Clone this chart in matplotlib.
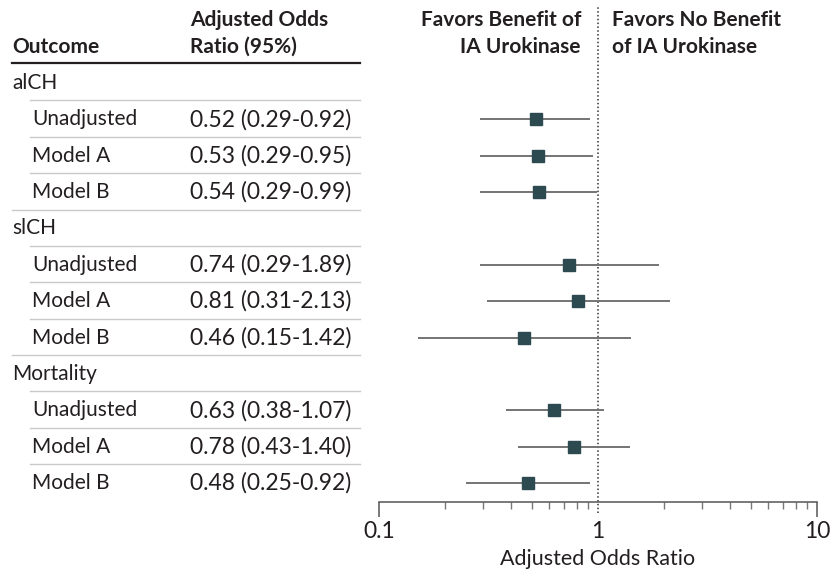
import matplotlib
matplotlib.use("Agg")
import matplotlib.pyplot as plt
import matplotlib.transforms as mtransforms
from matplotlib import font_manager
import numpy as np

# ---- data ----
groups = ["alCH", "slCH", "Mortality"]
models = ["Unadjusted", "Model A", "Model B"]
odds_ratio = [0.52, 0.53, 0.54, 0.74, 0.81, 0.46, 0.63, 0.78, 0.48]
ci_low = [0.29, 0.29, 0.29, 0.29, 0.31, 0.15, 0.38, 0.43, 0.25]
ci_high = [0.92, 0.95, 0.99, 1.89, 2.13, 1.42, 1.07, 1.40, 0.92]
x_ticks = [0.1, 1, 10]
x_tick_labels = ["0.1", "1", "10"]

available = {f.name for f in font_manager.fontManager.ttflist}
family = [f for f in ["Liberation Sans Narrow", "Lato", "DejaVu Sans"] if f in available]
plt.rcParams["font.family"] = family

W, H = 833, 575
fig = plt.figure(figsize=(W / 100, H / 100), dpi=100)

# forest-plot axes: x from 0.1 to 10 on a log scale
ax = fig.add_axes([379 / W, 73 / H, 438 / W, 497 / H])
ax.set_xscale("log")
ax.set_xlim(0.1, 10)
ax.set_ylim(11.52, -2.145)

text_color = "#231f20"
marker_color = "#2d4a50"
line_color = "#747474"
rule_color = "#c9c9c9"
fs = 15
fs_num = 16.5

trans = mtransforms.blended_transform_factory(fig.transFigure, ax.transData)

def fx(px):
    return px / W

# build rows: group header then three model rows
row = 0
k = 0
for g_i, g in enumerate(groups):
    ax.text(fx(12), row, g, transform=trans, ha="left", va="center",
            fontsize=fs, color=text_color, clip_on=False)
    ax.plot([fx(30), fx(360)], [row + 0.48] * 2, transform=trans,
            color=rule_color, lw=1, clip_on=False)
    row += 1
    for m_i, m in enumerate(models):
        ax.text(fx(32), row, m, transform=trans, ha="left", va="center",
                fontsize=fs, color=text_color, clip_on=False)
        label = f"{odds_ratio[k]:.2f} ({ci_low[k]:.2f}-{ci_high[k]:.2f})"
        ax.text(fx(190), row, label, transform=trans, ha="left", va="center",
                fontsize=fs_num, color=text_color, clip_on=False)
        is_last = m_i == len(models) - 1
        if not (is_last and g_i == len(groups) - 1):
            start = 12 if is_last else 30
            ax.plot([fx(start), fx(360)], [row + 0.48] * 2, transform=trans,
                    color=rule_color, lw=1, clip_on=False)
        ax.plot([ci_low[k], ci_high[k]], [row, row], color=line_color, lw=1.4,
                solid_capstyle="butt", zorder=2)
        ax.plot([odds_ratio[k]], [row], marker="s", ms=9, color=marker_color,
                mec=marker_color, zorder=3)
        row += 1
        k += 1

# column headers
ax.text(fx(12), -1.0, "Outcome", transform=trans, ha="left", va="center",
        fontsize=fs, fontweight="bold", color=text_color, clip_on=False)
ax.text(fx(190), -1.73, "Adjusted Odds", transform=trans, ha="left", va="center",
        fontsize=fs, fontweight="bold", color=text_color, clip_on=False)
ax.text(fx(190), -1.0, "Ratio (95%)", transform=trans, ha="left", va="center",
        fontsize=fs, fontweight="bold", color=text_color, clip_on=False)
ax.plot([fx(12), fx(360)], [-0.55] * 2, transform=trans, color=text_color,
        lw=1.6, clip_on=False)

ax.text(fx(581), -1.73, "Favors Benefit of", transform=trans, ha="right",
        va="center", fontsize=fs, fontweight="bold", color=text_color, clip_on=False)
ax.text(fx(581), -1.0, "IA Urokinase", transform=trans, ha="right",
        va="center", fontsize=fs, fontweight="bold", color=text_color, clip_on=False)
ax.text(fx(612), -1.73, "Favors No Benefit", transform=trans, ha="left",
        va="center", fontsize=fs, fontweight="bold", color=text_color, clip_on=False)
ax.text(fx(612), -1.0, "of IA Urokinase", transform=trans, ha="left",
        va="center", fontsize=fs, fontweight="bold", color=text_color, clip_on=False)

# reference line at OR = 1
ax.axvline(1, ymin=-0.022, ymax=1, color="#333333", lw=1.1,
           ls=(0, (1, 1.5)), clip_on=False, zorder=1)

# axis styling
for s in ["top", "right", "left"]:
    ax.spines[s].set_visible(False)
ax.spines["bottom"].set_color("#555555")
ax.spines["bottom"].set_linewidth(1.1)
ax.set_yticks([])
ax.set_xticks(x_ticks)
ax.set_xticklabels(x_tick_labels)
ax.xaxis.set_minor_locator(matplotlib.ticker.LogLocator(base=10, subs=np.arange(2, 10)))
ax.xaxis.set_minor_formatter(matplotlib.ticker.NullFormatter())
ax.tick_params(axis="x", which="major", length=11, width=1.1, color="#555555",
               labelsize=fs_num, labelcolor=text_color, pad=3)
ax.tick_params(axis="x", which="minor", length=5, width=1, color="#777777")
ax.xaxis.get_major_ticks()[1].tick1line.set_visible(False)
ax.set_xlabel("Adjusted Odds Ratio", fontsize=15.5, color=text_color, labelpad=5)

fig.savefig("out.png", dpi=100, facecolor="white")
